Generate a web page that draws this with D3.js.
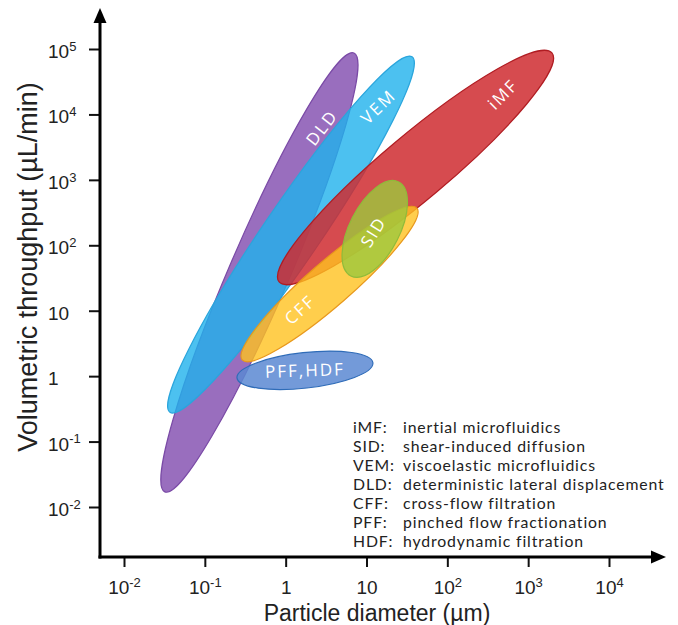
<!DOCTYPE html>
<html>
<head>
<meta charset="utf-8">
<script src="https://cdn.jsdelivr.net/npm/d3@7"></script>
<style>
  body { margin: 0; background: #fff; }
  .tick text, .title { font-family: "Liberation Sans", Arial, sans-serif; fill: #222; }
  .lbl { font-family: "Open Sans", "Noto Sans", sans-serif; fill: #fff; letter-spacing: 2px; }
  .legend { font-family: Lato, "Open Sans", sans-serif; fill: #222; }
</style>
</head>
<body>
<svg id="chart"></svg>
<script>
// methods, drawn bottom to top
var methods = ["DLD", "VEM", "iMF", "CFF", "SID", "PFF,HDF"];
// lower-left end of each region (particle diameter um, throughput uL/min)
var dMin = [0.032, 0.037, 0.83, 0.29, 6.4, 0.25];
var qMin = [0.017, 0.28, 27.5, 1.77, 34, 0.94];
// upper-right end of each region
var dMax = [7.0, 36.6, 1970, 42, 25, 12];
var qMax = [8.7e4, 7.6e4, 8.7e4, 370, 930, 1.6];
// half-width of each region, in decades
var spread = [0.37, 0.35, 0.40, 0.27, 0.31, 0.22];

var xTicks = [1e-2, 1e-1, 1, 10, 1e2, 1e3, 1e4];
var yTicks = [1e-2, 1e-1, 1, 10, 1e2, 1e3, 1e4, 1e5];

var abbr = ["iMF:", "SID:", "VEM:", "DLD:", "CFF:", "PFF:", "HDF:"];
var names = ["inertial microfluidics", "shear-induced diffusion", "viscoelastic microfluidics",
  "deterministic lateral displacement", "cross-flow filtration", "pinched flow fractionation",
  "hydrodynamic filtration"];

var width = 678, height = 625;
var fills = ["#9466bb", "#1fb2ec", "#cf2b30", "#ffc21f", "#9cc83c", "#5a88d2"];
var strokes = ["#7a4aa6", "#2aa5dc", "#b01c22", "#e8981c", "#8fbb3a", "#2f6cb8"];
var opac = [0.95, 0.8, 0.85, 0.8, 0.8, 0.85];
var labelAt = [0.83, 0.86, 0.82, 0.33, 0.47, 0.5];
var labelRot = [-52, -44, -45, -42, -58, -2];

var x = d3.scaleLog().domain([1e-2, 1e4]).range([124, 609]);
var y = d3.scaleLog().domain([1e-2, 1e5]).range([507, 49]);

var svg = d3.select("#chart").attr("width", width).attr("height", height);

// regions
var regions = methods.map(function (m, i) {
  var x1 = x(dMin[i]), y1 = y(qMin[i]), x2 = x(dMax[i]), y2 = y(qMax[i]);
  return {
    name: m, i: i,
    cx: (x1 + x2) / 2, cy: (y1 + y2) / 2,
    a: Math.hypot(x2 - x1, y2 - y1) / 2,
    b: x(Math.pow(10, spread[i])) - x(1),
    ang: Math.atan2(y2 - y1, x2 - x1) * 180 / Math.PI,
    x1: x1, y1: y1, x2: x2, y2: y2
  };
});

svg.append("g").selectAll("ellipse")
  .data(regions)
  .join("ellipse")
  .attr("cx", function (d) { return d.cx; })
  .attr("cy", function (d) { return d.cy; })
  .attr("rx", function (d) { return d.a; })
  .attr("ry", function (d) { return d.b; })
  .attr("transform", function (d) { return "rotate(" + d.ang + "," + d.cx + "," + d.cy + ")"; })
  .attr("fill", function (d) { return fills[d.i]; })
  .attr("fill-opacity", function (d) { return opac[d.i]; })
  .attr("stroke", function (d) { return strokes[d.i]; })
  .attr("stroke-width", 1.2);

svg.append("g").selectAll("text")
  .data(regions)
  .join("text")
  .attr("class", "lbl")
  .attr("font-size", 17)
  .attr("text-anchor", "middle")
  .attr("dy", "0.36em")
  .attr("transform", function (d) {
    var t = labelAt[d.i];
    var px = d.x1 + (d.x2 - d.x1) * t, py = d.y1 + (d.y2 - d.y1) * t;
    return "translate(" + px + "," + py + ") rotate(" + labelRot[d.i] + ")";
  })
  .text(function (d) { return d.name; });

// axes
function fmt(g, v) {
  var e = Math.round(Math.log10(v));
  var t = g.select("text").text(null);
  if (e === 0) t.text("1");
  else if (e === 1) t.text("10");
  else {
    t.append("tspan").text("10");
    t.append("tspan").attr("font-size", 13).attr("dy", "-0.55em").text(e < 0 ? "-" + (-e) : e);
  }
}

var xAxis = svg.append("g")
  .attr("transform", "translate(0,557)")
  .call(d3.axisBottom(x).tickValues(xTicks).tickSize(10).tickPadding(14));
xAxis.select(".domain").remove();
xAxis.selectAll(".tick line").attr("stroke", "#111").attr("stroke-width", 2);
xAxis.selectAll(".tick text").attr("font-size", 19).attr("dy", "0.71em");
xAxis.selectAll(".tick").each(function (v) { fmt(d3.select(this), v); });

var yAxis = svg.append("g")
  .attr("transform", "translate(100,0)")
  .call(d3.axisLeft(y).tickValues(yTicks).tickSize(11).tickPadding(0));
yAxis.select(".domain").remove();
yAxis.selectAll(".tick line").attr("stroke", "#111").attr("stroke-width", 2);
yAxis.selectAll(".tick text").attr("font-size", 19).attr("text-anchor", "start")
  .attr("x", -52).attr("dy", "0.45em");
yAxis.selectAll(".tick").each(function (v) { fmt(d3.select(this), v); });

// axis lines with arrows
svg.append("line").attr("x1", 100).attr("y1", 20).attr("x2", 100).attr("y2", 558.5)
  .attr("stroke", "#000").attr("stroke-width", 3);
svg.append("line").attr("x1", 98.5).attr("y1", 557).attr("x2", 652).attr("y2", 557)
  .attr("stroke", "#000").attr("stroke-width", 3);
svg.append("path").attr("d", "M93.5,23 L106.5,23 L100,8 Z").attr("fill", "#000");
svg.append("path").attr("d", "M651,550.5 L651,563.5 L666,557 Z").attr("fill", "#000");

// titles
svg.append("text").attr("class", "title").attr("font-size", 23)
  .attr("text-anchor", "middle").attr("x", 377).attr("y", 621)
  .text("Particle diameter (µm)");
svg.append("text").attr("class", "title").attr("font-size", 27)
  .attr("text-anchor", "middle")
  .attr("transform", "translate(37,267) rotate(-90)")
  .text("Volumetric throughput (µL/min)");

// legend: one text block, abbreviation column and name column
var legend = svg.append("text").attr("class", "legend").attr("font-size", 15.8);
abbr.forEach(function (a, i) {
  legend.append("tspan").attr("x", 353).attr("y", 433 + i * 19).text(a);
  legend.append("tspan").attr("class", "nm").attr("x", 403).attr("y", 433 + i * 19).text(names[i]);
});
// stretch the spacing so the longest name ends where the reference does
var longest = legend.selectAll("tspan.nm").filter(function (d, i) { return i === 3; }).node();
var extra = (261 - longest.getComputedTextLength()) / (names[3].length - 1);
legend.attr("letter-spacing", Math.max(0, extra));
</script>
</body>
</html>
